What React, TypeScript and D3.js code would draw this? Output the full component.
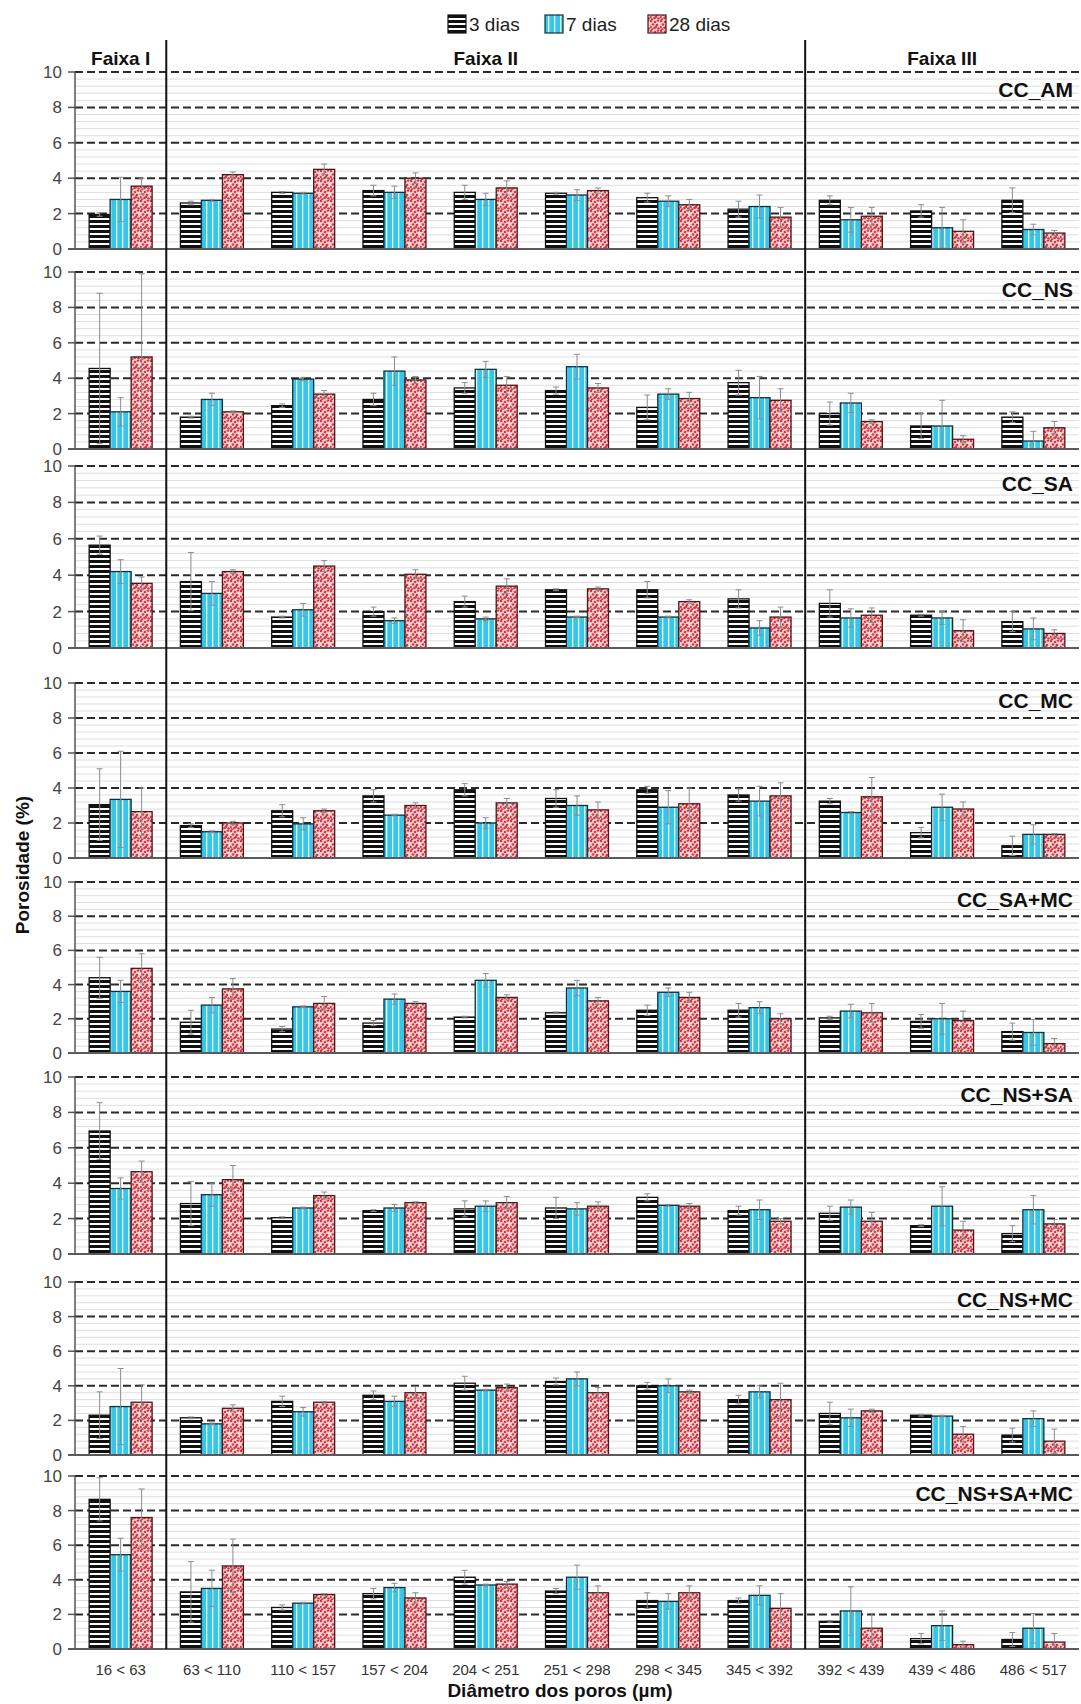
import React from 'react'
import { scaleBand, scaleLinear, range } from 'd3'

const categories = ['16 < 63', '63 < 110', '110 < 157', '157 < 204', '204 < 251', '251 < 298', '298 < 345', '345 < 392', '392 < 439', '439 < 486', '486 < 517']
const seriesNames = ['3 dias', '7 dias', '28 dias']
const panelNames = ['CC_AM', 'CC_NS', 'CC_SA', 'CC_MC', 'CC_SA+MC', 'CC_NS+SA', 'CC_NS+MC', 'CC_NS+SA+MC']
const faixas = ['Faixa I', 'Faixa II', 'Faixa III']
const yTicks = [0, 2, 4, 6, 8, 10]

// means and std deviations (%), order: 3 dias, 7 dias, 28 dias
const am3 = [1.95, 2.6, 3.2, 3.3, 3.2, 3.15, 2.9, 2.25, 2.75, 2.15, 2.75]
const am3sd = [0.1, 0.1, 0.05, 0.3, 0.4, 0.05, 0.25, 0.45, 0.25, 0.35, 0.7]
const am7 = [2.8, 2.75, 3.15, 3.2, 2.8, 3.05, 2.7, 2.4, 1.65, 1.2, 1.1]
const am7sd = [1.25, 0.05, 0.05, 0.35, 0.35, 0.3, 0.3, 0.65, 0.7, 1.15, 0.3]
const am28 = [3.55, 4.2, 4.5, 4.0, 3.45, 3.3, 2.5, 1.8, 1.85, 1.0, 0.9]
const am28sd = [0.45, 0.15, 0.3, 0.3, 0.4, 0.15, 0.3, 0.55, 0.5, 0.65, 0.15]

const ns3 = [4.55, 1.8, 2.45, 2.8, 3.45, 3.3, 2.35, 3.75, 2.0, 1.3, 1.8]
const ns3sd = [4.25, 0.05, 0.1, 0.35, 0.3, 0.2, 0.7, 0.7, 0.65, 0.7, 0.3]
const ns7 = [2.1, 2.8, 3.95, 4.4, 4.5, 4.65, 3.1, 2.9, 2.6, 1.3, 0.45]
const ns7sd = [0.8, 0.35, 0.1, 0.8, 0.45, 0.7, 0.3, 1.2, 0.55, 1.45, 0.55]
const ns28 = [5.2, 2.1, 3.1, 3.9, 3.6, 3.45, 2.85, 2.75, 1.55, 0.55, 1.2]
const ns28sd = [4.7, 0.05, 0.2, 0.2, 0.5, 0.25, 0.35, 0.65, 0.1, 0.2, 0.35]

const sa3 = [5.65, 3.65, 1.7, 2.0, 2.55, 3.2, 3.2, 2.7, 2.45, 1.8, 1.45]
const sa3sd = [0.5, 1.6, 0.05, 0.25, 0.3, 0.05, 0.45, 0.5, 0.75, 0.05, 0.55]
const sa7 = [4.2, 3.0, 2.1, 1.5, 1.6, 1.7, 1.7, 1.1, 1.65, 1.65, 1.05]
const sa7sd = [0.65, 0.65, 0.35, 0.15, 0.1, 0.05, 0.05, 0.4, 0.5, 0.35, 0.6]
const sa28 = [3.55, 4.2, 4.5, 4.05, 3.4, 3.25, 2.55, 1.7, 1.8, 0.95, 0.8]
const sa28sd = [0.35, 0.1, 0.3, 0.25, 0.4, 0.1, 0.1, 0.55, 0.4, 0.6, 0.2]

const mc3 = [3.05, 1.85, 2.7, 3.55, 3.9, 3.4, 3.9, 3.6, 3.25, 1.45, 0.7]
const mc3sd = [2.05, 0.1, 0.35, 0.35, 0.35, 0.5, 0.2, 0.35, 0.15, 0.3, 0.55]
const mc7 = [3.35, 1.5, 1.95, 2.45, 2.0, 3.0, 2.9, 3.25, 2.6, 2.9, 1.35]
const mc7sd = [2.75, 0.05, 0.35, 0.05, 0.3, 0.55, 0.95, 0.85, 0.05, 0.75, 0.55]
const mc28 = [2.65, 2.0, 2.7, 3.0, 3.15, 2.75, 3.1, 3.55, 3.5, 2.8, 1.35]
const mc28sd = [1.35, 0.1, 0.1, 0.15, 0.25, 0.45, 0.9, 0.75, 1.1, 0.4, 0.05]

const samc3 = [4.4, 1.8, 1.4, 1.75, 2.1, 2.35, 2.5, 2.5, 2.05, 1.85, 1.25]
const samc3sd = [1.2, 0.7, 0.15, 0.15, 0.05, 0.05, 0.3, 0.4, 0.1, 0.4, 0.5]
const samc7 = [3.6, 2.8, 2.7, 3.15, 4.25, 3.8, 3.55, 2.65, 2.45, 2.0, 1.2]
const samc7sd = [0.65, 0.45, 0.05, 0.3, 0.4, 0.45, 0.25, 0.35, 0.4, 0.9, 0.75]
const samc28 = [4.95, 3.75, 2.9, 2.9, 3.25, 3.05, 3.25, 2.0, 2.35, 1.9, 0.55]
const samc28sd = [0.85, 0.6, 0.4, 0.1, 0.15, 0.2, 0.3, 0.3, 0.55, 0.55, 0.3]

const nssa3 = [6.95, 2.85, 2.05, 2.45, 2.55, 2.6, 3.2, 2.45, 2.3, 1.6, 1.15]
const nssa3sd = [1.6, 1.25, 0.05, 0.05, 0.45, 0.6, 0.2, 0.25, 0.4, 0.05, 0.45]
const nssa7 = [3.7, 3.35, 2.6, 2.6, 2.7, 2.55, 2.75, 2.5, 2.65, 2.7, 2.5]
const nssa7sd = [0.6, 0.65, 0.05, 0.2, 0.3, 0.35, 0.05, 0.55, 0.4, 1.1, 0.8]
const nssa28 = [4.65, 4.2, 3.3, 2.9, 2.9, 2.7, 2.7, 1.85, 1.85, 1.35, 1.7]
const nssa28sd = [0.6, 0.8, 0.2, 0.05, 0.35, 0.25, 0.15, 0.15, 0.5, 0.5, 0.25]

const nsmc3 = [2.3, 2.15, 3.1, 3.45, 4.15, 4.25, 4.0, 3.2, 2.4, 2.3, 1.15]
const nsmc3sd = [1.35, 0.05, 0.3, 0.25, 0.4, 0.2, 0.2, 0.25, 0.65, 0.05, 0.4]
const nsmc7 = [2.8, 1.8, 2.5, 3.1, 3.75, 4.4, 4.0, 3.65, 2.15, 2.25, 2.1]
const nsmc7sd = [2.2, 0.05, 0.25, 0.3, 0.05, 0.4, 0.4, 0.35, 0.5, 0.05, 0.45]
const nsmc28 = [3.05, 2.7, 3.05, 3.6, 3.9, 3.6, 3.65, 3.2, 2.55, 1.2, 0.8]
const nsmc28sd = [1.0, 0.2, 0.05, 0.35, 0.2, 0.3, 0.1, 0.95, 0.1, 0.45, 0.7]

const all3 = [8.65, 3.3, 2.4, 3.2, 4.15, 3.35, 2.8, 2.8, 1.6, 0.6, 0.55]
const all3sd = [1.25, 1.75, 0.15, 0.3, 0.4, 0.15, 0.45, 0.15, 0.05, 0.3, 0.4]
const all7 = [5.45, 3.5, 2.65, 3.55, 3.7, 4.15, 2.75, 3.1, 2.2, 1.35, 1.2]
const all7sd = [0.95, 1.05, 0.05, 0.25, 0.05, 0.7, 0.45, 0.55, 1.4, 0.85, 0.85]
const all28 = [7.6, 4.8, 3.15, 2.95, 3.75, 3.25, 3.25, 2.35, 1.2, 0.25, 0.4]
const all28sd = [1.65, 1.55, 0.05, 0.3, 0.15, 0.4, 0.4, 0.85, 0.85, 0.2, 0.5]

const panelMeans = [
  [am3, am7, am28], [ns3, ns7, ns28], [sa3, sa7, sa28], [mc3, mc7, mc28],
  [samc3, samc7, samc28], [nssa3, nssa7, nssa28], [nsmc3, nsmc7, nsmc28], [all3, all7, all28],
]
const panelSds = [
  [am3sd, am7sd, am28sd], [ns3sd, ns7sd, ns28sd], [sa3sd, sa7sd, sa28sd], [mc3sd, mc7sd, mc28sd],
  [samc3sd, samc7sd, samc28sd], [nssa3sd, nssa7sd, nssa28sd], [nsmc3sd, nsmc7sd, nsmc28sd], [all3sd, all7sd, all28sd],
]

// layout
const W = 1081
const H = 1704
const left = 75
const right = 1079
const panelTop = [72, 272, 466, 683, 882, 1077, 1282, 1476]
const panelBottom = [249, 449, 648, 858, 1053, 1254, 1455, 1649]

const fills = ['url(#hstripe)', 'url(#vstripe)', 'url(#dots)']
const strokes = ['#111', '#12303c', '#4a1a1c']
const font = "'Liberation Sans', Arial, sans-serif"
const narrow = "'Liberation Sans Narrow', 'Arial Narrow', 'Liberation Sans', Arial, sans-serif"

const dotPos = [[1, 1], [5, 2], [8, 0.5], [3, 4.5], [7, 5], [0.5, 7], [4.5, 8], [8.5, 8.5], [2, 9.5], [6, 6.8]]

export default function App() {
  const x = scaleBand<string>().domain(categories).range([left, right]).paddingInner(0.31).paddingOuter(0.155)
  const xs = scaleBand<number>().domain([0, 1, 2]).range([0, x.bandwidth()])
  const step = x.step()
  const dividers = [1, 8].map(i => (x(categories[i]) as number) - step * x.paddingInner() / 2)
  const faixaX = [
    (x(categories[0]) as number) + x.bandwidth() / 2,
    (dividers[0] + dividers[1]) / 2,
    (dividers[1] + right) / 2,
  ]

  return (
    <svg width={W} height={H} style={{ position: 'absolute', left: 0, top: 0, background: '#fff' }}>
      <defs>
        <pattern id="hstripe" patternUnits="userSpaceOnUse" width="10" height="5">
          <rect width="10" height="5" fill="#fff" />
          <rect width="10" height="3" fill="#111" />
        </pattern>
        <pattern id="vstripe" patternUnits="userSpaceOnUse" width="6" height="10">
          <rect width="6" height="10" fill="#35c6ea" />
          <rect x="2" width="1.3" height="10" fill="#e6f8fd" />
        </pattern>
        <pattern id="dots" patternUnits="userSpaceOnUse" width="10" height="10">
          <rect width="10" height="10" fill="#f7d6d6" />
          {dotPos.map((p, i) => (
            <circle key={i} cx={p[0]} cy={p[1]} r={1.35} fill="#d33a45" />
          ))}
        </pattern>
      </defs>

      {/* legend */}
      {seriesNames.map((s, i) => {
        const lx = [448, 545, 648][i]
        return (
          <g key={s}>
            <rect x={lx} y={15} width={18} height={18} fill={fills[i]} stroke={strokes[i]} strokeWidth={1.2} />
            <text x={lx + 21} y={31} fontFamily={font} fontSize={19} fill="#222">{s}</text>
          </g>
        )
      })}

      {/* faixa labels */}
      {faixas.map((f, i) => (
        <text key={f} x={faixaX[i]} y={65} textAnchor="middle" fontFamily={narrow} fontWeight="bold" fontSize={19} fill="#111">{f}</text>
      ))}

      {panelNames.map((name, p) => {
        const y = scaleLinear().domain([0, 10]).range([panelBottom[p], panelTop[p]])
        const minor = range(0.4, 10, 0.4).filter(v => Math.abs(v / 2 - Math.round(v / 2)) > 0.01)
        return (
          <g key={name}>
            {minor.map(v => (
              <line key={v} x1={left} x2={right} y1={y(v)} y2={y(v)} stroke="#dedede" strokeWidth={1} />
            ))}
            {yTicks.filter(t => t > 0).map(t => (
              <line key={t} x1={left} x2={right} y1={y(t)} y2={y(t)} stroke="#2a2a2a" strokeWidth={2} strokeDasharray="8 4" />
            ))}
            {categories.map((c, ci) => (
              <g key={c}>
                {[0, 1, 2].map(si => {
                  const v = panelMeans[p][si][ci]
                  const bx = (x(c) as number) + (xs(si) as number)
                  return (
                    <rect key={si} x={bx} y={y(v)} width={xs.bandwidth()} height={y(0) - y(v)}
                      fill={fills[si]} stroke={strokes[si]} strokeWidth={1.3} />
                  )
                })}
                {[0, 1, 2].map(si => {
                  const v = panelMeans[p][si][ci]
                  const sd = panelSds[p][si][ci]
                  const cx = (x(c) as number) + (xs(si) as number) + xs.bandwidth() / 2
                  const lo = Math.max(0, v - sd)
                  return (
                    <g key={'e' + si} stroke="#8c8c8c" strokeWidth={1}>
                      <line x1={cx} x2={cx} y1={y(lo)} y2={y(v + sd)} />
                      <line x1={cx - 3} x2={cx + 3} y1={y(v + sd)} y2={y(v + sd)} />
                      <line x1={cx - 3} x2={cx + 3} y1={y(lo)} y2={y(lo)} />
                    </g>
                  )
                })}
              </g>
            ))}
            {/* axis */}
            <line x1={left} x2={left} y1={y(10)} y2={y(0)} stroke="#555" strokeWidth={1.5} />
            {yTicks.map(t => (
              <g key={t}>
                <line x1={left - 7} x2={left} y1={y(t)} y2={y(t)} stroke="#555" strokeWidth={1.5} />
                <text x={62} y={y(t) + 6} textAnchor="end" fontFamily={font} fontSize={17} fill="#444">{t}</text>
              </g>
            ))}
            <line x1={left - 7} x2={right} y1={y(0)} y2={y(0)} stroke="#5a5a5a" strokeWidth={2} />
            <text x={1073} y={panelTop[p] + 25} textAnchor="end" fontFamily={narrow} fontWeight="bold" fontSize={21} fill="#111">{name}</text>
          </g>
        )
      })}

      {/* faixa dividers */}
      {dividers.map((d, i) => (
        <line key={i} x1={d} x2={d} y1={40} y2={panelBottom[7]} stroke="#111" strokeWidth={2} />
      ))}

      {/* x tick labels */}
      {categories.map(c => (
        <text key={c} x={(x(c) as number) + x.bandwidth() / 2} y={1675} textAnchor="middle" fontFamily={font} fontSize={15} fill="#333">{c}</text>
      ))}

      <text x={560} y={1697} textAnchor="middle" fontFamily={font} fontWeight="bold" fontSize={19} fill="#111">Diâmetro dos poros  (µm)</text>
      <text transform="translate(29,865) rotate(-90)" textAnchor="middle" fontFamily={font} fontWeight="bold" fontSize={19} fill="#111">Porosidade (%)</text>
    </svg>
  )
}
